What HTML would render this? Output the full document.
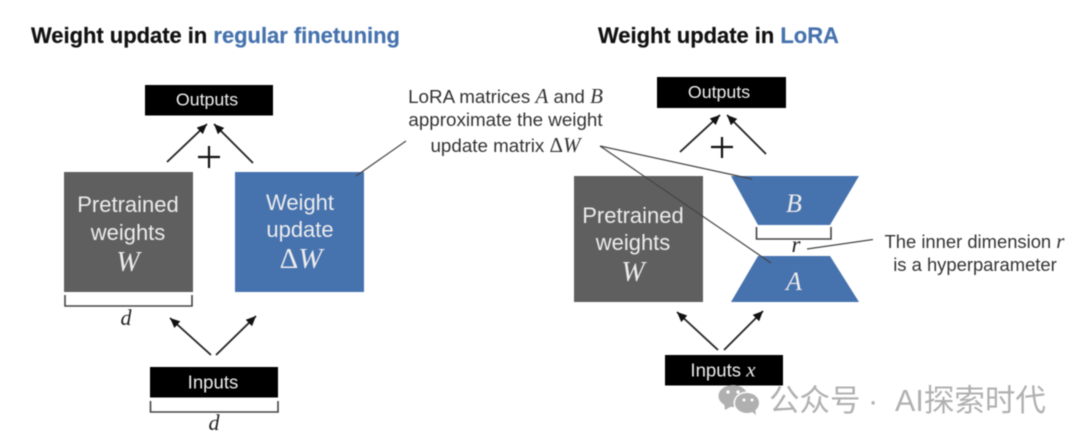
<!DOCTYPE html>
<html><head><meta charset="utf-8">
<style>
html,body{margin:0;padding:0;background:#fff;width:1080px;height:443px;overflow:hidden}
svg{display:block;filter:blur(0.5px)}
text{font-family:"Liberation Sans",sans-serif}
.t{font-weight:bold;font-size:21.95px;fill:#111;stroke:#111;stroke-width:.2}
.b{fill:#4672ae;stroke:#4672ae}
.o{font-size:17.8px;fill:#ececec;text-anchor:middle}
.i{font-size:18.6px;fill:#ececec;text-anchor:middle}
.w{font-size:22px;fill:#ececec;text-anchor:middle}
.m{font-family:"Liberation Serif",serif;font-style:italic}
.c{font-size:18.4px;fill:#333;text-anchor:middle}
.a{stroke:#222;stroke-width:1.8;fill:none;marker-end:url(#ah)}
.l{stroke:#444;stroke-width:1.2;fill:none}
.br{stroke:#444;stroke-width:1.6;fill:none}
.wm{font-size:30.5px;fill:#b0b0b0;font-family:"Liberation Sans","Noto Sans CJK SC",sans-serif}
</style></head><body>
<svg width="1080" height="443" viewBox="0 0 1080 443" xmlns="http://www.w3.org/2000/svg">
<defs><marker id="ah" markerUnits="userSpaceOnUse" markerWidth="11" markerHeight="10" refX="10" refY="4.5" orient="auto"><path d="M0 0L10 4.5L0 9z" fill="#111"/></marker></defs>
<rect width="1080" height="443" fill="#fff"/>

<text class="t" x="31" y="43">Weight update in <tspan class="b">regular finetuning</tspan></text>
<text class="t" x="598" y="43">Weight update in <tspan class="b">LoRA</tspan></text>

<!-- left -->
<rect x="145" y="85" width="128" height="30.500" fill="#000"/>
<text class="o" x="207" y="105.500">Outputs</text>
<path class="a" d="M167 162L207 124"/>
<path class="a" d="M253 163L214 124"/>
<path d="M198 157H220M209 146V168" stroke="#111" stroke-width="2.200" fill="none"/>
<rect x="64" y="172" width="129" height="120" fill="#5f5f5f"/>
<rect x="235" y="172" width="129" height="120" fill="#4672ae"/>
<text class="w" x="128" y="212">Pretrained</text>
<text class="w" x="128" y="240">weights</text>
<text class="w m" x="128" y="271" style="font-size:28px">W</text>
<text class="w" x="300" y="210">Weight</text>
<text class="w" x="300" y="237">update</text>
<text class="w m" x="301" y="268" style="font-size:29px"><tspan font-style="normal">Δ</tspan>W</text>
<path class="br" d="M65 295V306H192V295"/>
<text class="m" x="126" y="325" font-size="22" fill="#222" text-anchor="middle">d</text>
<path class="a" d="M211 355L170 318"/>
<path class="a" d="M216 355L256 316"/>
<rect x="150" y="367" width="128" height="30.500" fill="#000"/>
<text class="i" x="213" y="388.500">Inputs</text>
<path class="br" d="M150.500 401V412H278V401"/>
<text class="m" x="214" y="430" font-size="22" fill="#222" text-anchor="middle">d</text>
<path class="l" d="M356 176L406 141"/>

<!-- callout -->
<text class="c" x="505.500" y="103" style="font-size:18.8px">LoRA matrices <tspan class="m" font-size="21">A</tspan> and <tspan class="m" font-size="21">B</tspan></text>
<text class="c" x="505.500" y="126" style="font-size:18.8px">approximate the weight</text>
<text class="c" x="505.500" y="152" style="font-size:18.8px">update matrix <tspan class="m" font-size="21"><tspan font-style="normal">Δ</tspan>W</tspan></text>

<!-- right -->
<rect x="657" y="77" width="129" height="31" fill="#000"/>
<text class="o" x="719" y="98">Outputs</text>
<path class="a" d="M680 152L720 115"/>
<path class="a" d="M766 154L727 115"/>
<path d="M711 147H733M722 137V158" stroke="#111" stroke-width="2.200" fill="none"/>
<rect x="574" y="176" width="129" height="126" fill="#5f5f5f"/>
<text class="w" x="633" y="223">Pretrained</text>
<text class="w" x="633" y="250">weights</text>
<text class="w m" x="633" y="281" style="font-size:28px">W</text>
<polygon points="731,176 859,176 830,225 758,225" fill="#4672ae"/>
<polygon points="758,256 830,256 859,302 731,302" fill="#4672ae"/>
<text class="w m" x="794" y="212" style="font-size:26px">B</text>
<text class="w m" x="794" y="290" style="font-size:26px">A</text>
<path class="br" d="M756.500 227V239H831V227"/>
<text class="m" x="796" y="252" font-size="23" fill="#222" text-anchor="middle">r</text>
<path class="l" d="M807 249L873 239.500"/>
<text class="c" x="974.500" y="248">The inner dimension <tspan class="m" font-size="21">r</tspan></text>
<text class="c" x="975" y="271">is a hyperparameter</text>
<path class="l" d="M600 146L752 179" stroke="#333"/>
<path class="l" d="M600 146L771 263" stroke="#333"/>
<path class="a" d="M718 350L677 312"/>
<path class="a" d="M724 350L763 311"/>
<rect x="665" y="355" width="118" height="30.500" fill="#000"/>
<text class="i" x="723" y="376.500">Inputs <tspan class="m" font-size="21">x</tspan></text>

<!-- watermark -->
<g fill="#b0b0b0">
<ellipse cx="733" cy="396" rx="14.500" ry="11"/>
<path d="M724 403L725 410L732 406z"/>
<ellipse cx="747" cy="403" rx="13.500" ry="11.500" fill="#fff"/>
<ellipse cx="747" cy="403" rx="12" ry="10"/>
<path d="M751 411L756 415L755 408z"/>
</g>
<circle cx="728" cy="392" r="1.700" fill="#fff"/><circle cx="738" cy="392" r="1.700" fill="#fff"/>
<circle cx="744" cy="400" r="1.500" fill="#fff"/><circle cx="752" cy="400" r="1.500" fill="#fff"/>
<text class="wm" x="769" y="411">公众号</text>
<text class="wm" x="868" y="411">·</text>
<text class="wm" x="895" y="411">AI探索时代</text>
</svg>
</body></html>
